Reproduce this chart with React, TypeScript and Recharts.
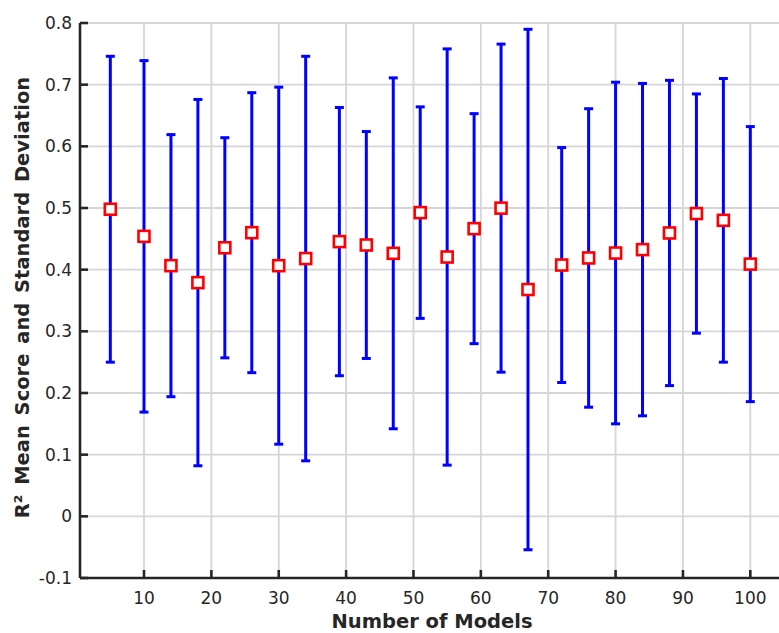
import { ScatterChart, Scatter, XAxis, YAxis, CartesianGrid, ErrorBar } from "recharts";

// model counts, mean R² scores and their standard deviations
const modelCounts = [5, 10, 14, 18, 22, 26, 30, 34, 39, 43, 47, 51, 55, 59, 63, 67, 72, 76, 80, 84, 88, 92, 96, 100];
const meanScores = [
  0.498, 0.454, 0.4065, 0.379, 0.4355, 0.46, 0.4065, 0.418, 0.4455, 0.44, 0.4265, 0.4925,
  0.4205, 0.4665, 0.4998, 0.3678, 0.4075, 0.419, 0.427, 0.4325, 0.4595, 0.491, 0.48, 0.409,
];
const stdDevs = [
  0.248, 0.285, 0.2125, 0.297, 0.1785, 0.227, 0.2895, 0.328, 0.2175, 0.184, 0.2845, 0.1715,
  0.3375, 0.1865, 0.266, 0.422, 0.1905, 0.242, 0.277, 0.2695, 0.2475, 0.194, 0.23, 0.223,
];
const xTicks = [10, 20, 30, 40, 50, 60, 70, 80, 90, 100];
const yTicks = [-0.1, 0, 0.1, 0.2, 0.3, 0.4, 0.5, 0.6, 0.7, 0.8];

const data = modelCounts.map((n, i) => ({ n, mean: meanScores[i], std: stdDevs[i] }));

const FONT = "DejaVu Sans";
const INK = "#262626";
const TICK_LEN = 8;
const X_GAP = 14;
const Y_GAP = 8;
const X_DOMAIN = [0.5, 105];
const Y_DOMAIN = [-0.1, 0.8];

const SquareMarker = (props: any) => {
  const { cx, cy } = props;
  const s = 11;
  return <rect x={cx - s / 2} y={cy - s / 2} width={s} height={s} fill="#fff" stroke="#ff0000" strokeWidth={2.6} />;
};

// tick marks point into the plot box, like a MATLAB axes
const BottomTick = ({ x, y, payload }: any) => {
  const axisY = y - X_GAP;
  return (
    <g>
      <line x1={x} x2={x} y1={axisY} y2={axisY - TICK_LEN} stroke={INK} strokeWidth={2.6} />
      <text x={x} y={y} dy="0.71em" textAnchor="middle" fill={INK} fontSize={17} fontFamily={FONT}>
        {payload.value}
      </text>
    </g>
  );
};

const LeftTick = ({ x, y, payload }: any) => {
  const axisX = x + Y_GAP;
  return (
    <g>
      <line x1={axisX} x2={axisX + TICK_LEN} y1={y} y2={y} stroke={INK} strokeWidth={2.6} />
      <text x={x} y={y} dy="0.355em" textAnchor="end" fill={INK} fontSize={17} fontFamily={FONT}>
        {String(Math.round(payload.value * 10) / 10)}
      </text>
    </g>
  );
};

const TopTick = ({ x, y }: any) => (
  <line x1={x} x2={x} y1={y} y2={y + TICK_LEN} stroke={INK} strokeWidth={2.6} />
);

const RightTick = ({ x, y }: any) => (
  <line x1={x} x2={x - TICK_LEN} y1={y} y2={y} stroke={INK} strokeWidth={2.6} />
);

// rotated y title beside the axis
const YTitle = ({ viewBox }: any) => {
  const cx = viewBox.x + 22;
  const cy = viewBox.y + viewBox.height / 2 - 3;
  return (
    <text
      x={cx}
      y={cy}
      dy="0.355em"
      transform={`rotate(-90, ${cx}, ${cy})`}
      textAnchor="middle"
      fill={INK}
      fontSize={19.5}
      fontWeight="bold"
      fontFamily={FONT}
      style={{ wordSpacing: 3 }}
    >
      R² Mean Score and Standard Deviation
    </text>
  );
};

const frame = { stroke: INK, strokeWidth: 2.6 };

export default function App() {
  return (
    <div style={{ position: "absolute", left: 0, top: 0, width: 779, height: 633, overflow: "hidden", background: "#fff" }}>
      <ScatterChart width={790} height={633} margin={{ top: 23, right: 6, left: 0, bottom: 0 }}>
        <CartesianGrid stroke="#d6d6d6" strokeWidth={1.8} />
        <XAxis
          type="number"
          dataKey="n"
          domain={X_DOMAIN}
          ticks={xTicks}
          allowDataOverflow
          height={55}
          tickSize={0}
          tickMargin={X_GAP}
          axisLine={frame}
          tickLine={false}
          tick={BottomTick}
          label={{ value: "Number of Models", position: "insideBottom", offset: 5, fill: INK, fontSize: 19.5, fontWeight: "bold", fontFamily: FONT }}
        />
        <XAxis
          xAxisId="top"
          orientation="top"
          type="number"
          dataKey="n"
          domain={X_DOMAIN}
          ticks={xTicks}
          allowDataOverflow
          height={0}
          tickSize={0}
          tickMargin={0}
          axisLine={frame}
          tickLine={false}
          tick={TopTick}
        />
        <YAxis
          type="number"
          dataKey="mean"
          domain={Y_DOMAIN}
          ticks={yTicks}
          allowDataOverflow
          width={80}
          tickSize={0}
          tickMargin={Y_GAP}
          axisLine={frame}
          tickLine={false}
          tick={LeftTick}
          label={{ content: YTitle }}
        />
        <YAxis
          yAxisId="right"
          orientation="right"
          type="number"
          domain={Y_DOMAIN}
          ticks={yTicks}
          allowDataOverflow
          width={0}
          tickSize={0}
          tickMargin={0}
          axisLine={frame}
          tickLine={false}
          tick={RightTick}
        />
        <Scatter data={data} shape={SquareMarker} isAnimationActive={false}>
          <ErrorBar dataKey="std" direction="y" width={4.5} stroke="#0000ff" strokeWidth={3} isAnimationActive={false} />
        </Scatter>
      </ScatterChart>
    </div>
  );
}
